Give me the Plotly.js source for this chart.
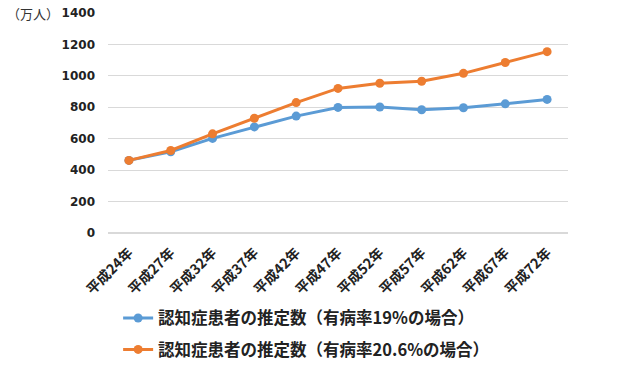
<!DOCTYPE html>
<html><head><meta charset="utf-8">
<script src="https://cdn.plot.ly/plotly-3.0.1.min.js"></script>
<style>html,body{margin:0;padding:0;background:#fff;}#chart{width:640px;height:372px;}</style>
</head><body><div id="chart"></div>
<script>
const categories = ["平成24年","平成27年","平成32年","平成37年","平成42年","平成47年","平成52年","平成57年","平成62年","平成67年","平成72年"];
const seriesNames = ["認知症患者の推定数（有病率19%の場合）","認知症患者の推定数（有病率20.6%の場合）"];
const values19 = [462,517,602,675,744,799,802,784,797,822,850];
const values206 = [462,525,631,730,830,920,953,966,1016,1085,1154];
const yTicks = [0,200,400,600,800,1000,1200,1400];
const unitLabel = "（万人）";

const cjk = '"Noto Sans CJK JP", "Noto Sans", sans-serif';
const traces = [
  {x: categories, y: values19, name: seriesNames[0], type: 'scatter', mode: 'lines+markers', legendgroup: 'a',
   line: {color: '#5B9BD5', width: 3}, marker: {color: '#5B9BD5', size: 9}},
  {x: categories, y: values206, name: seriesNames[1], type: 'scatter', mode: 'lines+markers', legendgroup: 'b',
   line: {color: '#ED7D31', width: 3}, marker: {color: '#ED7D31', size: 9}}
];
const layout = {
  width: 640, height: 372,
  margin: {l: 108, r: 72, t: 13, b: 139, autoexpand: false},
  paper_bgcolor: '#fff', plot_bgcolor: '#fff',
  showlegend: true,
  legend: {orientation: 'v', x: 0.022, xanchor: 'left', y: -0.308, yanchor: 'top',
           font: {family: cjk, size: 16.5, color: '#222', weight: 'bold'}, tracegroupgap: 7,
           itemwidth: 30},
  xaxis: {type: 'category', tickangle: -45, showgrid: false, showline: false, zeroline: false,
          ticks: '', ticklabelstandoff: 8,
          tickfont: {family: cjk, size: 14, color: '#222', weight: 'bold'}, range: [-0.5, 10.5]},
  yaxis: {range: [0, 1400], tickvals: yTicks, showgrid: true, gridcolor: '#d9d9d9', gridwidth: 1,
          zeroline: true, zerolinecolor: '#d9d9d9', zerolinewidth: 2, showline: false, ticks: '',
          ticklabelstandoff: 12,
          tickfont: {family: '"DejaVu Sans", sans-serif', size: 12, color: '#222', weight: 'bold'}},
  annotations: [{text: unitLabel, xref: 'paper', yref: 'paper', x: -0.225, y: 1.0, xanchor: 'left', yanchor: 'middle',
                 showarrow: false, font: {family: cjk, size: 13, color: '#333'}}]
};
Plotly.newPlot('chart', traces, layout, {displayModeBar: false, staticPlot: true});
</script></body></html>
